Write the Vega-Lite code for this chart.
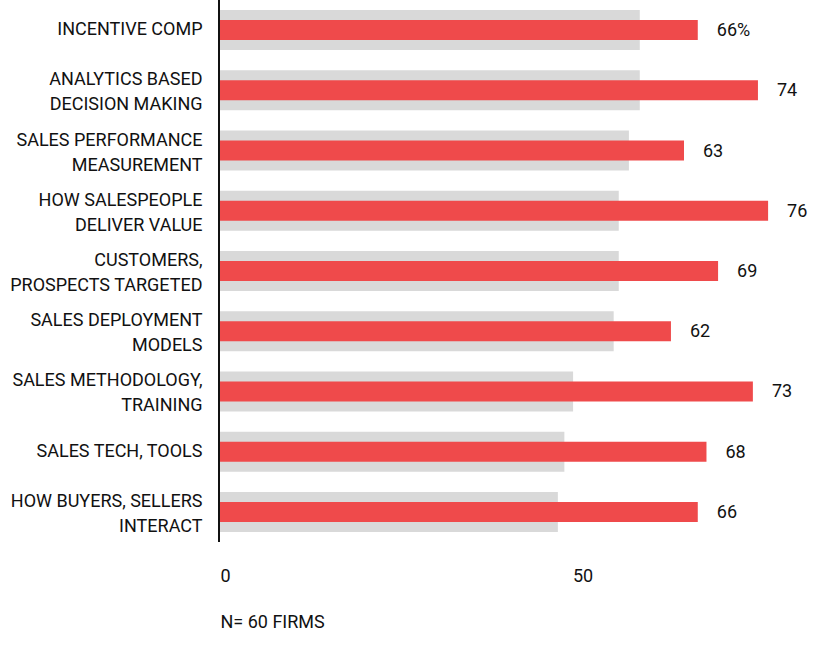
{
  "$schema": "https://vega.github.io/schema/vega-lite/v6.json",
  "autosize": "none",
  "width": 580,
  "height": 542,
  "padding": {"left": 220, "top": 0, "right": 25, "bottom": 104},
  "background": "white",
  "config": {
    "view": {"stroke": null},
    "font": "Roboto",
    "text": {"font": "Roboto"}
  },
  "data": {
    "values": [
      {"area": "INCENTIVE COMP", "gray": 57.9, "red": 65.9, "label": "66%"},
      {"area": "ANALYTICS BASED|DECISION MAKING", "gray": 57.9, "red": 74.2, "label": "74"},
      {"area": "SALES PERFORMANCE|MEASUREMENT", "gray": 56.4, "red": 64.0, "label": "63"},
      {"area": "HOW SALESPEOPLE|DELIVER VALUE", "gray": 55.0, "red": 75.6, "label": "76"},
      {"area": "CUSTOMERS,|PROSPECTS TARGETED", "gray": 55.0, "red": 68.7, "label": "69"},
      {"area": "SALES DEPLOYMENT|MODELS", "gray": 54.3, "red": 62.2, "label": "62"},
      {"area": "SALES METHODOLOGY,|TRAINING", "gray": 48.7, "red": 73.5, "label": "73"},
      {"area": "SALES TECH, TOOLS", "gray": 47.5, "red": 67.1, "label": "68"},
      {"area": "HOW BUYERS, SELLERS|INTERACT", "gray": 46.6, "red": 65.9, "label": "66"}
    ]
  },
  "layer": [
    {
      "mark": {"type": "bar", "height": 40, "color": "#d9d9d9"},
      "encoding": {
        "y": {
          "field": "area",
          "type": "nominal",
          "sort": null,
          "scale": {"paddingInner": 0, "paddingOuter": 0},
          "axis": {
            "title": null,
            "ticks": false,
            "domain": false,
            "labelExpr": "split(datum.label, '|')",
            "labelFont": "Roboto",
            "labelFontSize": 18,
            "labelColor": "#111111",
            "labelLineHeight": 25,
            "labelPadding": 18,
            "labelLimit": 300,
            "labelOffset": {
              "condition": {"test": "indexof(datum.value, '|') >= 0", "value": -10},
              "value": 0
            }
          }
        },
        "x": {
          "field": "gray",
          "type": "quantitative",
          "scale": {"domain": [0, 80], "nice": false},
          "axis": {
            "values": [0, 50],
            "grid": false,
            "domain": false,
            "ticks": false,
            "labelFlush": true,
            "labelFont": "Roboto",
            "labelFontSize": 18,
            "labelColor": "#111111",
            "labelPadding": 25,
            "title": "N= 60 FIRMS",
            "titleFont": "Roboto",
            "titleFontSize": 18,
            "titleFontWeight": "normal",
            "titleColor": "#111111",
            "titleAnchor": "start",
            "titleAlign": "left",
            "titlePadding": 28
          }
        }
      }
    },
    {
      "mark": {"type": "bar", "height": 20, "color": "#ef4a4b"},
      "encoding": {
        "y": {"field": "area", "type": "nominal", "sort": null},
        "x": {"field": "red", "type": "quantitative"}
      }
    },
    {
      "mark": {
        "type": "text",
        "align": "left",
        "baseline": "middle",
        "dx": 19,
        "dy": 1,
        "fontSize": 18,
        "color": "#111111"
      },
      "encoding": {
        "y": {"field": "area", "type": "nominal", "sort": null},
        "x": {"field": "red", "type": "quantitative"},
        "text": {"field": "label"}
      }
    },
    {
      "mark": {"type": "rule", "color": "#111111", "strokeWidth": 2, "xOffset": -1},
      "encoding": {
        "x": {"datum": 0, "type": "quantitative"}
      }
    }
  ]
}
